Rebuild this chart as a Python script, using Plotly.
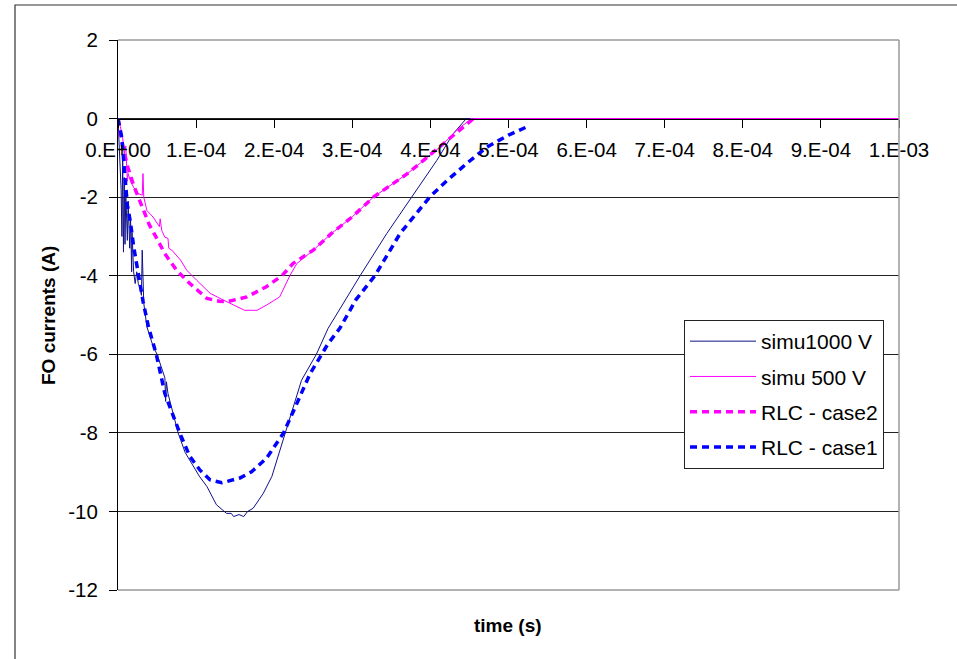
import plotly.graph_objects as go

# time values in units of 1e-4 s, currents in A
t_simu1000 = [0, 0.02, 0.04, 0.05, 0.06, 0.07, 0.08, 0.09, 0.10, 0.12, 0.13, 0.15, 0.16, 0.175,
              0.18, 0.20, 0.22, 0.24, 0.26, 0.28, 0.30, 0.31, 0.32, 0.33, 0.37, 0.45, 0.50, 0.58,
              0.60, 0.61, 0.62, 0.64, 0.77, 0.86, 0.94, 1.04, 1.14, 1.26, 1.39, 1.45, 1.48, 1.55,
              1.61, 1.66, 1.73, 1.86, 1.97, 2.14, 2.25, 2.35, 2.54, 2.69, 3.10, 3.44, 3.76, 4.08,
              4.29, 4.42, 4.46, 10.0]
i_simu1000 = [0, -0.8, -1.8, -3.0, -1.0, -3.4, -1.5, -3.2, -1.9, -3.1, -2.1, -3.3, -2.5, -3.9,
              -2.9, -3.9, -4.2, -3.9, -4.2, -4.3, -4.5, -3.35, -4.5, -4.7, -5.3, -5.8, -6.0, -6.5,
              -6.6, -7.2, -6.7, -7.0, -8.0, -8.5, -8.78, -9.1, -9.37, -9.83, -10.05, -10.05, -10.13, -10.08,
              -10.13, -10.0, -9.92, -9.54, -9.11, -8.0, -7.34, -6.66, -6.0, -5.34, -4.0, -2.93, -2.0, -1.07,
              -0.39, -0.1, 0, 0]

t_simu500 = [0, 0.03, 0.06, 0.08, 0.10, 0.12, 0.13, 0.16, 0.20, 0.26, 0.31, 0.32, 0.33, 0.37,
             0.45, 0.53, 0.54, 0.56, 0.60, 0.64, 0.65, 0.69, 0.80, 0.88, 1.01, 1.18, 1.35, 1.52,
             1.62, 1.78, 1.90, 2.07, 2.20, 2.29, 2.50, 2.73, 3.00, 3.27, 3.70, 4.12, 4.38, 4.50,
             4.55, 10.0]
i_simu500 = [0, -0.2, -0.5, -0.9, -0.7, -1.6, -1.4, -1.6, -1.75, -1.91, -1.95, -1.4, -2.0, -2.34,
             -2.51, -2.75, -2.55, -2.85, -3.02, -3.05, -3.3, -3.35, -3.6, -3.86, -4.12, -4.45, -4.62, -4.79,
             -4.88, -4.88, -4.75, -4.54, -4.0, -3.69, -3.35, -2.93, -2.5, -2.0, -1.41, -0.73, -0.22, -0.05,
             0, 0]

t_case2 = [0, 0.05, 0.12, 0.20, 0.28, 0.40, 0.51, 0.60, 0.75, 0.92, 1.14, 1.30, 1.40, 1.65,
           1.90, 2.10, 2.24, 2.50, 2.73, 3.00, 3.27, 3.70, 3.95, 4.25, 4.55]
i_case2 = [0, -0.6, -1.2, -1.7, -2.1, -2.7, -3.1, -3.44, -3.86, -4.2, -4.58, -4.65, -4.66, -4.54,
           -4.28, -4.0, -3.69, -3.35, -2.93, -2.5, -2.0, -1.41, -1.0, -0.5, 0]

t_case1 = [0, 0.05, 0.09, 0.12, 0.16, 0.20, 0.26, 0.32, 0.39, 0.49, 0.60, 0.79, 0.92, 1.05,
           1.18, 1.33, 1.56, 1.71, 1.90, 2.12, 2.27, 2.46, 2.69, 2.84, 3.05, 3.29, 3.61, 3.99,
           4.20, 4.46, 4.72, 5.00, 5.27]
i_case1 = [0, -0.5, -1.5, -2.2, -2.65, -3.25, -3.95, -4.65, -5.3, -6.0, -7.0, -8.0, -8.6, -8.95,
           -9.2, -9.27, -9.15, -8.99, -8.65, -8.0, -7.34, -6.49, -5.73, -5.34, -4.6, -4.0, -2.93, -2.0,
           -1.6, -1.15, -0.73, -0.42, -0.18]

x_tick_vals = [0, 1e-4, 2e-4, 3e-4, 4e-4, 5e-4, 6e-4, 7e-4, 8e-4, 9e-4, 1e-3]
x_tick_text = ["0.E+00", "1.E-04", "2.E-04", "3.E-04", "4.E-04", "5.E-04",
               "6.E-04", "7.E-04", "8.E-04", "9.E-04", "1.E-03"]
y_tick_vals = [2, 0, -2, -4, -6, -8, -10, -12]
y_tick_text = ["2", "0", "-2", "-4", "-6", "-8", "-10", "-12"]

FONT = "Arial, Liberation Sans, sans-serif"

def sec(ts):
    return [v * 1e-4 for v in ts]

fig = go.Figure()
fig.add_trace(go.Scatter(x=sec(t_simu1000), y=i_simu1000, mode="lines", name="simu1000 V",
                         line=dict(color="#101088", width=1), legendgroup="a"))
fig.add_trace(go.Scatter(x=sec(t_simu500), y=i_simu500, mode="lines", name="simu 500 V",
                         line=dict(color="#FF00FF", width=1), legendgroup="b"))
fig.add_trace(go.Scatter(x=sec(t_case2), y=i_case2, mode="lines", name="RLC - case2",
                         line=dict(color="#FF00FF", width=3.5, dash="7px,5px"), legendgroup="c"))
fig.add_trace(go.Scatter(x=sec(t_case1), y=i_case1, mode="lines", name="RLC - case1",
                         line=dict(color="#0000FF", width=3.5, dash="7px,5px"), legendgroup="d"))

W, H = 957, 659
L, R, T, B = 118, 899, 40, 590
pw, ph = R - L, B - T

def px(xp):
    return (xp - L) / pw

def py(yp):
    return (B - yp) / ph

fig.update_layout(
    width=W, height=H,
    margin=dict(l=L, r=W - R, t=T, b=H - B, pad=0),
    paper_bgcolor="white", plot_bgcolor="white",
    font=dict(family=FONT, color="black", size=20),
    showlegend=True,
    legend=dict(x=px(684), y=py(320), xanchor="left", yanchor="top",
                bgcolor="white", bordercolor="#222222", borderwidth=1,
                font=dict(family=FONT, size=21, color="black"),
                tracegroupgap=5, itemwidth=66),
    xaxis=dict(range=[0, 1e-3], tickvals=x_tick_vals, ticktext=x_tick_text,
               showgrid=False, zeroline=False, showline=True, linecolor="black", linewidth=1,
               ticks="outside", ticklen=8, tickcolor="black", tickwidth=1,
               anchor="free", position=12 / 14, ticklabelstandoff=5,
               tickfont=dict(family=FONT, size=20.5, color="black")),
    yaxis=dict(range=[-12, 2], tickvals=y_tick_vals, ticktext=y_tick_text,
               showgrid=True, gridcolor="#222222", gridwidth=1,
               zeroline=False, showline=True, linecolor="black", linewidth=1,
               ticks="outside", ticklen=8, tickcolor="black", tickwidth=1, ticklabelstandoff=7,
               tickfont=dict(family=FONT, size=20.5, color="black")),
    shapes=[
        # plot area border (top, right, bottom) in gray
        dict(type="line", xref="paper", yref="paper", x0=0, x1=1, y0=1, y1=1,
             line=dict(color="#999999", width=1.5), layer="above"),
        dict(type="line", xref="paper", yref="paper", x0=1, x1=1, y0=0, y1=1,
             line=dict(color="#999999", width=1.5), layer="above"),
        dict(type="line", xref="paper", yref="paper", x0=0, x1=1, y0=0, y1=0,
             line=dict(color="#999999", width=1.5), layer="above"),
        # outer chart frame
        dict(type="rect", xref="paper", yref="paper", x0=px(15), x1=px(1000), y0=py(720), y1=py(5),
             line=dict(color="#333333", width=1.2), layer="below"),
    ],
    annotations=[
        dict(text="<b>FO currents (A)</b>", xref="paper", yref="paper", x=px(48), y=py(316),
             showarrow=False, textangle=-90, font=dict(family=FONT, size=19, color="black"),
             xanchor="center", yanchor="middle"),
        dict(text="<b>time (s)</b>", xref="paper", yref="paper", x=px(508), y=py(625),
             showarrow=False, font=dict(family=FONT, size=19, color="black"),
             xanchor="center", yanchor="middle"),
    ],
)

fig.write_html("out.html")
